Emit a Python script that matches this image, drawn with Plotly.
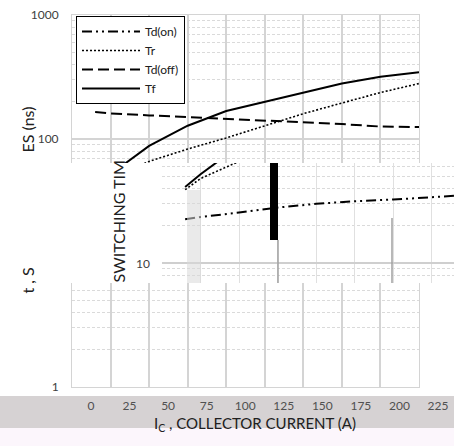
import plotly.graph_objects as go

# ---------------- data ----------------
current = [15, 25, 50, 75, 100, 125, 150, 175, 200, 225]
td_on = [22.5, 23.5, 25.5, 28, 30, 31.5, 32.5, 34, 35.5, 37]
tr = [39, 48, 66, 83, 102, 127, 160, 195, 237, 280]
td_off = [165, 161, 155, 150, 145, 140, 137, 132, 126, 125]
tf = [41, 52, 88, 128, 168, 200, 235, 280, 318, 345]

x_ticks = [0, 25, 50, 75, 100, 125, 150, 175, 200, 225]
x_labels = [str(v) for v in x_ticks]
y_ticks = [1, 10, 100, 1000]
y_labels = ["1", "10", "100", "1000"]
y_minor = [d * 10 ** k for k in range(0, 3) for d in range(2, 10)]

series = [
    ("Td(on)", td_on, dict(color="black", width=2, dash="10px,4px,2px,4px,2px,4px")),
    ("Tr", tr, dict(color="black", width=1.6, dash="2px,2px")),
    ("Td(off)", td_off, dict(color="black", width=2, dash="11px,5px")),
    ("Tf", tf, dict(color="black", width=2)),
]

W, H = 454, 446
FONT = "Lato, 'Open Sans', sans-serif"


def px(p):
    return p / W


def py(p):
    return 1 - p / H


fig = go.Figure()
for name, vals, line in series:
    fig.add_trace(go.Scatter(x=current, y=vals, name=name, mode="lines",
                             line=line, xaxis="x", yaxis="y"))
for name, vals, line in series:
    fig.add_trace(go.Scatter(x=current, y=vals, name=name, mode="lines",
                             line=line, xaxis="x2", yaxis="y2", showlegend=False))

grid = "#d4d4d4"
minor_grid = dict(tickvals=y_minor, showgrid=True, gridcolor="#dadada",
                  griddash="3px,2px", gridwidth=1, ticks="")

fig.update_layout(
    width=W, height=H,
    margin=dict(l=0, r=0, t=0, b=0, autoexpand=False),
    paper_bgcolor="white", plot_bgcolor="white",
    font=dict(family=FONT, color="#404040", size=12),
    xaxis=dict(domain=[px(72), px(419)], range=[0, 225], anchor="y",
               tickvals=x_ticks, ticktext=x_labels, showgrid=True,
               gridcolor=grid, gridwidth=1.5, zeroline=False,
               showline=True, linecolor=grid, mirror=True,
               ticks="", ticklabelshift=19, ticklabelstandoff=8,
               tickfont=dict(size=12, color="#505050")),
    yaxis=dict(domain=[py(387), py(15)], type="log", range=[0, 3], anchor="x",
               tickvals=y_ticks, ticktext=y_labels, showgrid=True,
               gridcolor=grid, gridwidth=1.5, zeroline=False,
               showline=True, linecolor=grid, mirror=True,
               ticks="", ticklabelstandoff=10, minor=minor_grid,
               tickfont=dict(size=12, color="#404040")),
    xaxis2=dict(domain=[px(162), 1.0], range=[0, (454 - 162) * 225 / 347],
                anchor="y2", dtick=25, tick0=0, showgrid=True,
                gridcolor="#e0e0e0", gridwidth=1, zeroline=False,
                showticklabels=False, ticks="", showline=False),
    yaxis2=dict(domain=[py(283), py(163)], type="log",
                range=[(387 - 283) / 124, (387 - 163) / 124], anchor="x2",
                tickvals=y_ticks, showgrid=True, gridcolor="#cfcfcf",
                gridwidth=1.5, zeroline=False, showticklabels=False,
                ticks="", showline=True, linecolor="#e0e0e0",
                minor=minor_grid),
    legend=dict(x=px(76), y=py(16), xanchor="left", yanchor="top",
                bgcolor="white", bordercolor="black", borderwidth=1,
                font=dict(size=12, color="#202020"), tracegroupgap=0,
                itemwidth=58),
    showlegend=True,
)

shapes = [
    # grey band behind x tick labels
    dict(type="rect", xref="paper", yref="paper", x0=0, x1=1,
         y0=py(428), y1=py(396), fillcolor="#d6d2d3", line_width=0, layer="below"),
    # pale band behind x title
    dict(type="rect", xref="paper", yref="paper", x0=0, x1=1,
         y0=0, y1=py(428), fillcolor="#fcf6fc", line_width=0, layer="below"),
    # white block on the left of the inset
    dict(type="rect", xref="paper", yref="paper", x0=0, x1=px(162),
         y0=py(283), y1=py(163), fillcolor="white", line_width=0, layer="above"),
    # faint striped band
    dict(type="rect", xref="paper", yref="paper", x0=px(187), x1=px(201),
         y0=py(283), y1=py(190), fillcolor="#d8d8d8", opacity=0.55,
         line_width=0, layer="above"),
    # dark bar
    dict(type="rect", xref="paper", yref="paper", x0=px(270), x1=px(278),
         y0=py(240), y1=py(163), fillcolor="black", line_width=0, layer="above"),
    dict(type="line", xref="paper", yref="paper", x0=px(278), x1=px(278),
         y0=py(283), y1=py(240), line=dict(color="#a0a0a0", width=1.5), layer="above"),
    dict(type="line", xref="paper", yref="paper", x0=px(392), x1=px(392),
         y0=py(283), y1=py(218), line=dict(color="#a0a0a0", width=1.5), layer="above"),
]
fig.update_layout(shapes=shapes)

annotations = [
    # visible pieces of the main y title (middle hidden by the inset block)
    dict(text="ES (ns)", x=px(15), y=py(105), xref="paper", yref="paper",
         yanchor="top", showarrow=False, textangle=-90,
         font=dict(size=16, color="#202020")),
    dict(text="t , S", x=px(15), y=py(296), xref="paper", yref="paper",
         yanchor="bottom", showarrow=False, textangle=-90,
         font=dict(size=16, color="#202020")),
    dict(text="SWITCHING TIM", x=px(106), y=py(222), xref="paper",
         yref="paper", showarrow=False, textangle=-90,
         font=dict(size=16, color="#202020")),
    dict(text="10", x=px(152), y=py(263), xref="paper", yref="paper",
         xanchor="right", showarrow=False, font=dict(size=12, color="#404040")),
    dict(text="I<sub>C</sub> , COLLECTOR CURRENT (A)", x=px(255), y=py(436),
         xref="paper", yref="paper", showarrow=False,
         font=dict(size=15, color="#202020")),
]
fig.update_layout(annotations=annotations)

fig.write_html(
    "out.html",
    config={"displayModeBar": False},
    post_script="document.body.style.margin='0';document.body.style.overflow='hidden';",
)
